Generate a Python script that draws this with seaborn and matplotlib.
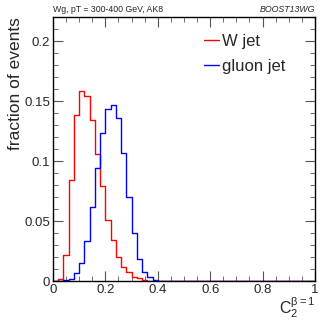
import numpy as np
import pandas as pd
import seaborn as sns
import matplotlib
matplotlib.use("Agg")
import matplotlib.pyplot as plt
from matplotlib.ticker import MultipleLocator

# bin edges 0..1 in steps of 0.02 (50 bins)
n_bins = 50
centers = (np.arange(n_bins) + 0.5) / n_bins

w_jet = [0, 0.0015, 0.022, 0.084, 0.138, 0.158, 0.154, 0.134, 0.106, 0.079,
         0.051, 0.034, 0.020, 0.012, 0.0078, 0.0036, 0.0025, 0.001] + [0] * 32
gluon_jet = [0, 0, 0.0005, 0.0014, 0.0064, 0.015, 0.033, 0.062, 0.094, 0.123,
             0.143, 0.147, 0.136, 0.107, 0.070, 0.040, 0.018, 0.0072, 0.003,
             0.001] + [0] * 30

df_w = pd.DataFrame({"c2": centers, "frac": w_jet})
df_g = pd.DataFrame({"c2": centers, "frac": gluon_jet})

sns.set_style("ticks")
plt.rcParams['font.family'] = ['Liberation Sans', 'DejaVu Sans']
plt.rcParams['mathtext.fontset'] = 'custom'
plt.rcParams['mathtext.rm'] = 'Liberation Sans'
plt.rcParams['mathtext.it'] = 'Liberation Sans'

fig = plt.figure(figsize=(3.32, 3.22), dpi=100)
ax = fig.add_axes([0.1596, 0.1273, 0.7892, 0.8199])

sns.histplot(data=df_w, x="c2", weights="frac", bins=n_bins, binrange=(0, 1),
             element="step", fill=False, color="#ff0000", linewidth=1.0,
             ax=ax, label="W jet")
sns.histplot(data=df_g, x="c2", weights="frac", bins=n_bins, binrange=(0, 1),
             element="step", fill=False, color="#0000ff", linewidth=1.0,
             ax=ax, label="gluon jet")

ax.set_xlim(0, 1)
ax.set_ylim(0, 0.22)
ax.xaxis.set_major_locator(MultipleLocator(0.2))
ax.xaxis.set_minor_locator(MultipleLocator(0.05))
ax.yaxis.set_major_locator(MultipleLocator(0.05))
ax.yaxis.set_minor_locator(MultipleLocator(0.01))
ax.xaxis.set_major_formatter(plt.FuncFormatter(lambda v, p: f"{v:g}"))
ax.yaxis.set_major_formatter(plt.FuncFormatter(lambda v, p: f"{v:g}"))
ax.tick_params(which="both", direction="in", top=True, right=True,
               labelsize=9.5, pad=2, color="#555555")
ax.tick_params(which="major", length=7)
ax.tick_params(which="minor", length=3.5)
for s in ax.spines.values():
    s.set_linewidth(1.0)
    s.set_color("black")

ax.set_ylabel("fraction of events", fontsize=12.5, loc="top")
ax.yaxis.set_label_coords(-0.115, 1.0)
ax.set_xlabel(r"$\mathrm{C}_{2}^{\beta=1}$", fontsize=11.5, loc="right")
ax.xaxis.set_label_coords(1.0, -0.052)
ax.xaxis.label.set_va("top")

ax.text(0.0, 1.012, "Wg, pT = 300-400 GeV, AK8", transform=ax.transAxes,
        fontsize=6.3, ha="left", va="bottom")
ax.text(1.0, 1.012, "BOOST13WG", transform=ax.transAxes, fontsize=6.3,
        ha="right", va="bottom", style="italic")

ax.legend(loc="upper left", bbox_to_anchor=(0.55, 0.962), frameon=False,
          fontsize=12, handlelength=0.9, handletextpad=0.2,
          labelspacing=0.6, borderaxespad=0)

fig.savefig("out.png", dpi=100)
